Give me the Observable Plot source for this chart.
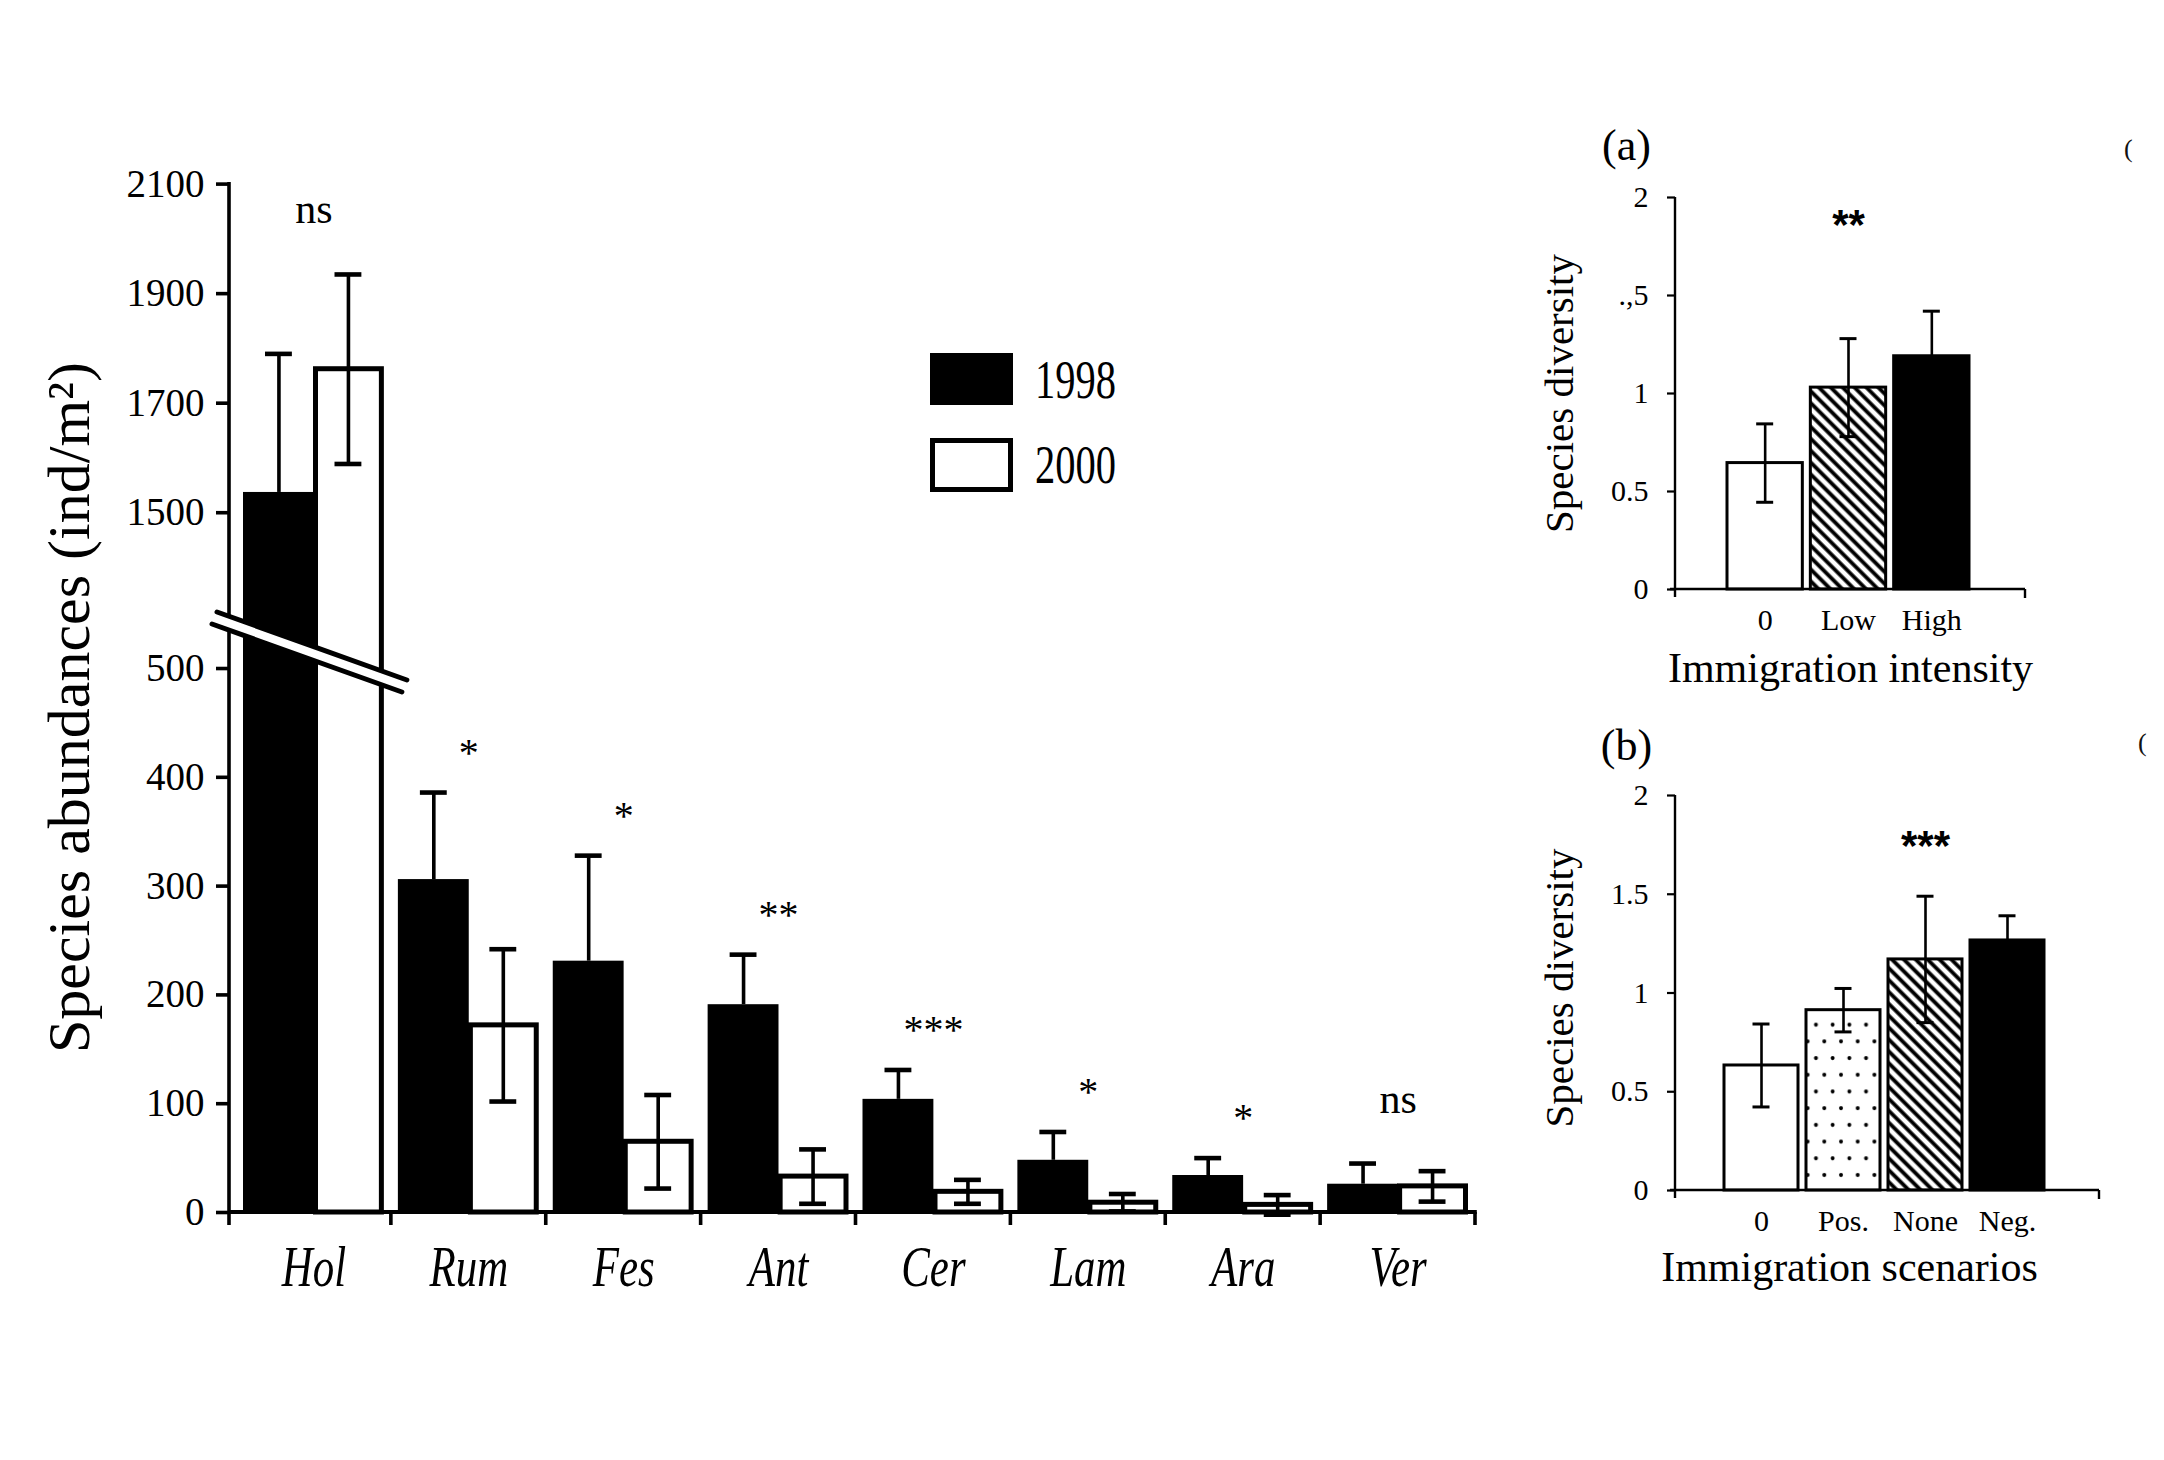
<!DOCTYPE html>
<html>
<head>
<meta charset="utf-8">
<script src="https://cdn.jsdelivr.net/npm/d3@7"></script>
<script src="https://cdn.jsdelivr.net/npm/@observablehq/plot@0.6"></script>
<style>
html, body { margin:0; padding:0; background:#fff; }
#wrap { position:relative; width:2164px; height:1460px; overflow:hidden; background:#fff; font-family:"Liberation Serif","Times New Roman",serif; color:#000; }
.abs { position:absolute; white-space:nowrap; }
</style>
</head>
<body>
<svg width="0" height="0" style="position:absolute;left:0;top:0">
 <defs>
  <pattern id="hatch" patternUnits="userSpaceOnUse" width="8.4" height="8.4" patternTransform="rotate(-45)">
   <rect width="8.4" height="8.4" fill="#fff"/>
   <line x1="4.2" y1="-1" x2="4.2" y2="9.4" stroke="#000" stroke-width="3.8"/>
  </pattern>
  <pattern id="dots" patternUnits="userSpaceOnUse" width="16.7" height="33.4">
   <rect width="16.7" height="33.4" fill="#fff"/>
   <circle cx="4" cy="6" r="2" fill="#000"/>
   <circle cx="12.35" cy="22.7" r="2" fill="#000"/>
  </pattern>
 </defs>
</svg>
<div id="wrap"></div>
<script>
// ---------------- data: main chart ----------------
const categories = ["Hol","Rum","Fes","Ant","Cer","Lam","Ara","Ver"];
const years = ["1998","2000"];
const mean1998 = [1537, 306, 231, 191, 104, 48, 34, 26];
const se1998   = [253, 80, 97, 46, 27, 26, 16, 19];
const mean2000 = [1762, 172, 65, 33, 19, 9, 7, 24];
const se2000   = [173, 70, 43, 25, 11, 8, 9, 14];
const significance = ["ns","*","*","**","***","*","*","ns"];
const yTicksMain = [0,100,200,300,400,500,1500,1700,1900,2100];
const yBreak = [540, 1295]; // values hidden by the axis break
const yTitleMain = "Species abundances (ind/m²)";

// ---------------- data: panel (a) ----------------
const groupsA = ["0","Low","High"];
const meanA = [0.645, 1.03, 1.19];
const seA   = [0.20, 0.25, 0.23];
const sigA = {g: "Low", s: "**"};
const tickLabelsA = ["0","0.5","1",".,5","2"];
const xTitleA = "Immigration intensity";

// ---------------- data: panel (b) ----------------
const groupsB = ["0","Pos.","None","Neg."];
const meanB = [0.633, 0.913, 1.17, 1.266];
const seB   = [0.21, 0.11, 0.32, 0.125];
const sigB = {g: "None", s: "***"};
const tickLabelsB = ["0","0.5","1","1.5","2"];
const xTitleB = "Immigration scenarios";

const panelTicks = [0, 0.5, 1, 1.5, 2];
const yTitlePanel = "Species diversity";

// ---------------- styles ----------------
const fillsA = {"0":"#fff","Low":"url(#hatch)","High":"#000"};
const fillsB = {"0":"#fff","Pos.":"url(#dots)","None":"url(#hatch)","Neg.":"#000"};
const W = 2164, H = 1460;
const serif = '"Liberation Serif","Times New Roman",serif';
const sans = '"Liberation Sans",Arial,sans-serif';
const svgStyle = {position:"absolute", left:"0px", top:"0px", background:"transparent", overflow:"visible", fontFamily: serif, maxWidth:"none"};

const wrap = document.getElementById("wrap");

// ---------------- main chart ----------------
const rows = categories.map((cat, i) => ({
  cat, m98: mean1998[i], e98: se1998[i], m00: mean2000[i], e00: se2000[i], sig: significance[i],
  top: Math.max(mean1998[i] + se1998[i], mean2000[i] + se2000[i])
}));

function mainAxes(index, scales, values, dims) {
  const x = scales.x, y = scales.y;
  const bw = x.bandwidth();
  const ax = dims.marginLeft;
  const xEnd = x(categories[categories.length - 1]) + bw;
  const y0 = y(0), yTop = y(yTicksMain[yTicksMain.length - 1]);
  const g = d3.create("svg:g").attr("stroke", "#000").attr("fill", "none");
  g.append("line").attr("x1", ax).attr("x2", ax).attr("y1", yTop - 1.5).attr("y2", y0 + 13).attr("stroke-width", 3.6);
  g.append("line").attr("x1", ax).attr("x2", xEnd + 1.8).attr("y1", y0).attr("y2", y0).attr("stroke-width", 4);
  for (const c of categories.slice(1)) {
    g.append("line").attr("x1", x(c)).attr("x2", x(c)).attr("y1", y0).attr("y2", y0 + 13).attr("stroke-width", 3.6);
  }
  g.append("line").attr("x1", xEnd).attr("x2", xEnd).attr("y1", y0).attr("y2", y0 + 13).attr("stroke-width", 3.6);
  // axis break
  const yb = y(yBreak[0]) - 1.3;
  const s = 0.358, half = 6.9;
  const cy = xp => yb + s * (xp - ax);
  const holEnd = x(categories[0]) + bw;
  const t1 = ax - 12, t2 = holEnd + 16, b1 = ax - 17, b2 = holEnd + 11;
  g.append("path")
    .attr("d", `M${t1},${cy(t1) - half}L${t2},${cy(t2) - half}L${b2},${cy(b2) + half}L${b1},${cy(b1) + half}Z`)
    .attr("fill", "#fff").attr("stroke", "none");
  g.append("line").attr("x1", t1).attr("y1", cy(t1) - half).attr("x2", t2).attr("y2", cy(t2) - half)
    .attr("stroke-width", 5).attr("stroke-linecap", "round");
  g.append("line").attr("x1", b1).attr("y1", cy(b1) + half).attr("x2", b2).attr("y2", cy(b2) + half)
    .attr("stroke-width", 5).attr("stroke-linecap", "round");
  return g.node();
}

const mainPlot = Plot.plot({
  width: W, height: H,
  marginLeft: 229, marginTop: 184, marginRight: W - 1475, marginBottom: H - 1212,
  style: svgStyle,
  x: {type: "band", domain: categories, range: [236, 1475], padding: 0, round: false, axis: null},
  y: {type: "linear", domain: [0, yBreak[0], yBreak[1], 2100], range: [1212, 624.5, 624.5, 183.6]},
  marks: [
    Plot.barY(rows, {x: "cat", y1: 0, y2: "m98", fill: "#000", insetLeft: 7, insetRight: 77}),
    Plot.barY(rows, {x: "cat", y1: 0, y2: "m00", fill: "#fff", stroke: "#000", strokeWidth: 5, insetLeft: 79.5, insetRight: 9.5}),
    Plot.ruleX(rows, {x: "cat", y1: "m98", y2: d => d.m98 + d.e98, dx: -35, stroke: "#000", strokeWidth: 3.6}),
    Plot.tickY(rows, {x: "cat", y: d => d.m98 + d.e98, dx: -35, insetLeft: 64, insetRight: 64, stroke: "#000", strokeWidth: 4.6}),
    Plot.ruleX(rows, {x: "cat", y1: d => d.m00 - d.e00, y2: d => d.m00 + d.e00, dx: 34.5, stroke: "#000", strokeWidth: 3.6}),
    Plot.tickY(rows, {x: "cat", y: d => d.m00 + d.e00, dx: 34.5, insetLeft: 64, insetRight: 64, stroke: "#000", strokeWidth: 4.6}),
    Plot.tickY(rows, {x: "cat", y: d => d.m00 - d.e00, dx: 34.5, insetLeft: 64, insetRight: 64, stroke: "#000", strokeWidth: 4.6}),
    Plot.text(rows.filter(d => d.sig !== "ns"), {x: "cat", y: "top", text: "sig", dy: -27, lineAnchor: "bottom", fontSize: 40}),
    Plot.text(rows.filter(d => d.sig === "ns"), {x: "cat", y: "top", text: "sig", dy: -51, lineAnchor: "bottom", fontSize: 42}),
    Plot.text(rows, {x: "cat", text: "cat", frameAnchor: "bottom", dy: 55, lineAnchor: "middle", fontSize: 58, fontStyle: "italic"}),
    Plot.axisY({ticks: yTicksMain, tickFormat: d => String(d), tickSize: 13, tickPadding: 12, fontSize: 39, strokeWidth: 3.6, label: null}),
    Plot.text([yTitleMain], {text: d => d, frameAnchor: "left", textAnchor: "middle", rotate: -90, dx: -160, dy: 9, fontSize: 60}),
    mainAxes
  ]
});

// ---------------- panels ----------------
function makePanel(cfg) {
  const data = cfg.groups.map((g, i) => ({g, m: cfg.mean[i], e: cfg.se[i]}));
  const bw = (cfg.xRange[1] - cfg.xRange[0]) / cfg.groups.length;
  const capInset = (bw - 17) / 2;
  const axes = (index, scales, values, dims) => {
    const g = d3.create("svg:g").attr("stroke", "#000").attr("fill", "none").attr("stroke-width", 2.4);
    const xl = dims.marginLeft, xr = dims.width - dims.marginRight;
    const y0 = scales.y(0), yt = scales.y(2);
    g.append("line").attr("x1", xl).attr("x2", xl).attr("y1", yt).attr("y2", y0 + 8);
    g.append("line").attr("x1", xl - 5).attr("x2", xr).attr("y1", y0).attr("y2", y0);
    g.append("line").attr("x1", xr).attr("x2", xr).attr("y1", y0).attr("y2", y0 + 9);
    return g.node();
  };
  return Plot.plot({
    width: W, height: H,
    marginLeft: 1675, marginRight: W - cfg.right, marginTop: cfg.top, marginBottom: H - cfg.bottom,
    style: svgStyle,
    x: {type: "band", domain: cfg.groups, range: cfg.xRange, padding: 0, round: false},
    y: {type: "linear", domain: [0, 2]},
    color: {type: "identity"},
    marks: [
      Plot.barY(data, {x: "g", y1: 0, y2: "m", fill: d => cfg.fills[d.g], stroke: "#000", strokeWidth: 3, insetLeft: 4, insetRight: 4}),
      Plot.ruleX(data, {x: "g", y1: d => d.m - d.e, y2: d => d.m + d.e, stroke: "#000", strokeWidth: 2.6}),
      Plot.tickY(data, {x: "g", y: d => d.m + d.e, insetLeft: capInset, insetRight: capInset, stroke: "#000", strokeWidth: 3}),
      Plot.tickY(data, {x: "g", y: d => d.m - d.e, insetLeft: capInset, insetRight: capInset, stroke: "#000", strokeWidth: 3}),
      Plot.axisY({ticks: panelTicks, tickFormat: d => cfg.tickLabels[panelTicks.indexOf(d)], tickSize: 8, tickPadding: 19, fontSize: 30, strokeWidth: 2.2, label: null}),
      Plot.axisX({tickSize: 0, tickPadding: 19, fontSize: 30, label: null}),
      Plot.text([cfg.xTitle], {text: d => d, frameAnchor: "bottom", textAnchor: "middle", dx: cfg.titleDx, dy: cfg.titleDy, lineAnchor: "middle", fontSize: 42}),
      Plot.text([yTitlePanel], {text: d => d, frameAnchor: "left", textAnchor: "middle", rotate: -90, dx: -116, dy: cfg.yTitleDy, fontSize: 41}),
      Plot.text([cfg.tag], {text: d => d, frameAnchor: "top-left", dx: -49, dy: cfg.tagDy, lineAnchor: "middle", textAnchor: "middle", fontSize: 44}),
      Plot.text([cfg.sig], {x: "g", text: "s", frameAnchor: "top", dy: cfg.sigDy, lineAnchor: "middle", fontSize: 42, fontWeight: "bold", fontFamily: sans}),
      axes
    ]
  });
}

const panelA = makePanel({
  groups: groupsA, mean: meanA, se: seA, fills: fillsA, sig: sigA, tickLabels: tickLabelsA,
  xTitle: xTitleA, tag: "(a)", top: 197, bottom: 589, right: 2025, xRange: [1723, 1973],
  titleDx: 0, titleDy: 79, yTitleDy: 0, tagDy: -52, sigDy: 28
});
const panelB = makePanel({
  groups: groupsB, mean: meanB, se: seB, fills: fillsB, sig: sigB, tickLabels: tickLabelsB,
  xTitle: xTitleB, tag: "(b)", top: 795, bottom: 1190, right: 2099, xRange: [1720, 2048],
  titleDx: -38, titleDy: 77, yTitleDy: -5, tagDy: -50, sigDy: 51
});

wrap.append(mainPlot, panelA, panelB);

// condensed italic category labels
mainPlot.querySelectorAll('g[font-style="italic"] text').forEach(t => {
  const tr = t.getAttribute("transform") || "";
  t.setAttribute("transform", tr + " scale(0.74,1)");
});

// ---------------- legend (HTML) ----------------
const legendTops = [353, 438];
years.forEach((yr, i) => {
  const box = document.createElement("div");
  box.className = "abs";
  box.style.cssText = `left:930px;top:${legendTops[i]}px;width:83px;height:${i === 0 ? 52 : 54}px;box-sizing:border-box;` +
    (i === 0 ? "background:#000;" : "background:#fff;border:5px solid #000;");
  wrap.appendChild(box);
  const lab = document.createElement("div");
  lab.className = "abs";
  lab.textContent = yr;
  lab.style.cssText = `left:1035px;top:${legendTops[i]}px;font-size:54px;line-height:54px;transform:scaleX(0.75);transform-origin:0 0;`;
  wrap.appendChild(lab);
});

// scan remnants at the right edge
[[2124, 134], [2138, 728]].forEach(([l, t]) => {
  const s = document.createElement("div");
  s.className = "abs";
  s.textContent = "(";
  s.style.cssText = `left:${l}px;top:${t}px;font-size:26px;line-height:30px;color:#111;`;
  wrap.appendChild(s);
});
</script>
</body>
</html>
